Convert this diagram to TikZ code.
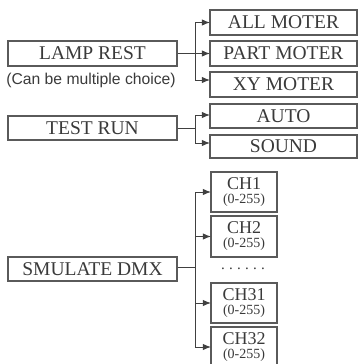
\documentclass[tikz,border=0pt]{standalone}
\usepackage{fontspec}
\setmainfont{Liberation Serif}
\newfontfamily\capfont{Liberation Sans}
\usetikzlibrary{arrows.meta}
\definecolor{ink}{HTML}{3A3A3A}
\definecolor{edge}{HTML}{5A5A5A}
\definecolor{wire}{HTML}{404040}
\tikzset{
  box/.style={draw=edge, line width=1.3pt, inner sep=0pt, text=ink,
    font=\fontsize{19.5}{20}\selectfont},
  leftbox/.style={box, minimum width=169pt},
  rightbox/.style={box, minimum width=147pt},
  chbox/.style={box, minimum width=66pt, minimum height=40pt, align=center,
    font=\fontsize{18}{17}\selectfont},
  link/.style={draw=wire, line width=0.9pt},
  arr/.style={link, -{Latex[length=8pt,width=6.5pt]}, shorten >=-0.5pt},
}
\newcommand{\rng}{\\[-3pt]{\fontsize{14}{14}\selectfont (0-255)}}
\begin{document}
\begin{tikzpicture}[x=1pt,y=-1pt]
\useasboundingbox (0,0) rectangle (359,364);
\clip (0,0) rectangle (359,364);
% left boxes
\node[leftbox, minimum height=25pt] (lamp) at (92.5,53.5) {LAMP REST};
\node[text=ink, font=\capfont\fontsize{15.7}{16}\selectfont, inner sep=0pt] (cap) at (91,80) {(Can be multiple choice)};
\node[leftbox, minimum height=24pt] (test) at (92.5,128) {TEST RUN};
\node[leftbox, minimum height=24pt] (dmx) at (92.5,269) {SMULATE DMX};
% right boxes
\node[rightbox, minimum height=25pt] (all) at (283.5,22.5) {ALL MOTER};
\node[rightbox, minimum height=25pt] (part) at (283.5,53.5) {PART MOTER};
\node[rightbox, minimum height=25pt] (xy) at (283.5,84.5) {XY MOTER};
\node[rightbox, minimum height=24pt] (auto) at (283.5,116) {AUTO};
\node[rightbox, minimum height=23pt] (sound) at (283.5,146.5) {SOUND};
% channel boxes
\node[chbox] (ch1) at (244,192) {CH1\rng};
\node[chbox, minimum height=41pt] (ch2) at (244,236.5) {CH2\rng};
\node[text=ink, inner sep=0pt, font=\fontsize{15}{15}\selectfont] (dots) at (243,269) {.\hspace{4.3pt}.\hspace{4.3pt}.\hspace{4.3pt}.\hspace{4.3pt}.\hspace{4.3pt}.};
\node[chbox] (ch31) at (244,303) {CH31\rng};
\node[chbox] (ch32) at (244,347) {CH32\rng};
% junctions
\coordinate (j1) at (195,53.5);
\coordinate (j2) at (195,128);
\coordinate (j3) at (195,267);
% connectors
\draw[link] (lamp.east) -- (j1);
\draw[arr] (j1) |- (all.west);
\draw[arr] (j1) -- (part.west);
\draw[arr] (j1) |- ([yshift=4.5pt]xy.west);
\draw[link] (test.east) -- (j2);
\draw[arr] (j2) |- ([yshift=1pt]auto.west);
\draw[arr] (j2) |- ([yshift=3.5pt]sound.west);
\draw[link] ([yshift=2pt]dmx.east) -- (j3);
\draw[arr] (j3) |- (ch1.west);
\draw[arr] (j3) |- (ch2.west);
\draw[arr] (j3) |- (ch31.west);
\draw[arr] (j3) |- (ch32.west);
\end{tikzpicture}
\end{document}
